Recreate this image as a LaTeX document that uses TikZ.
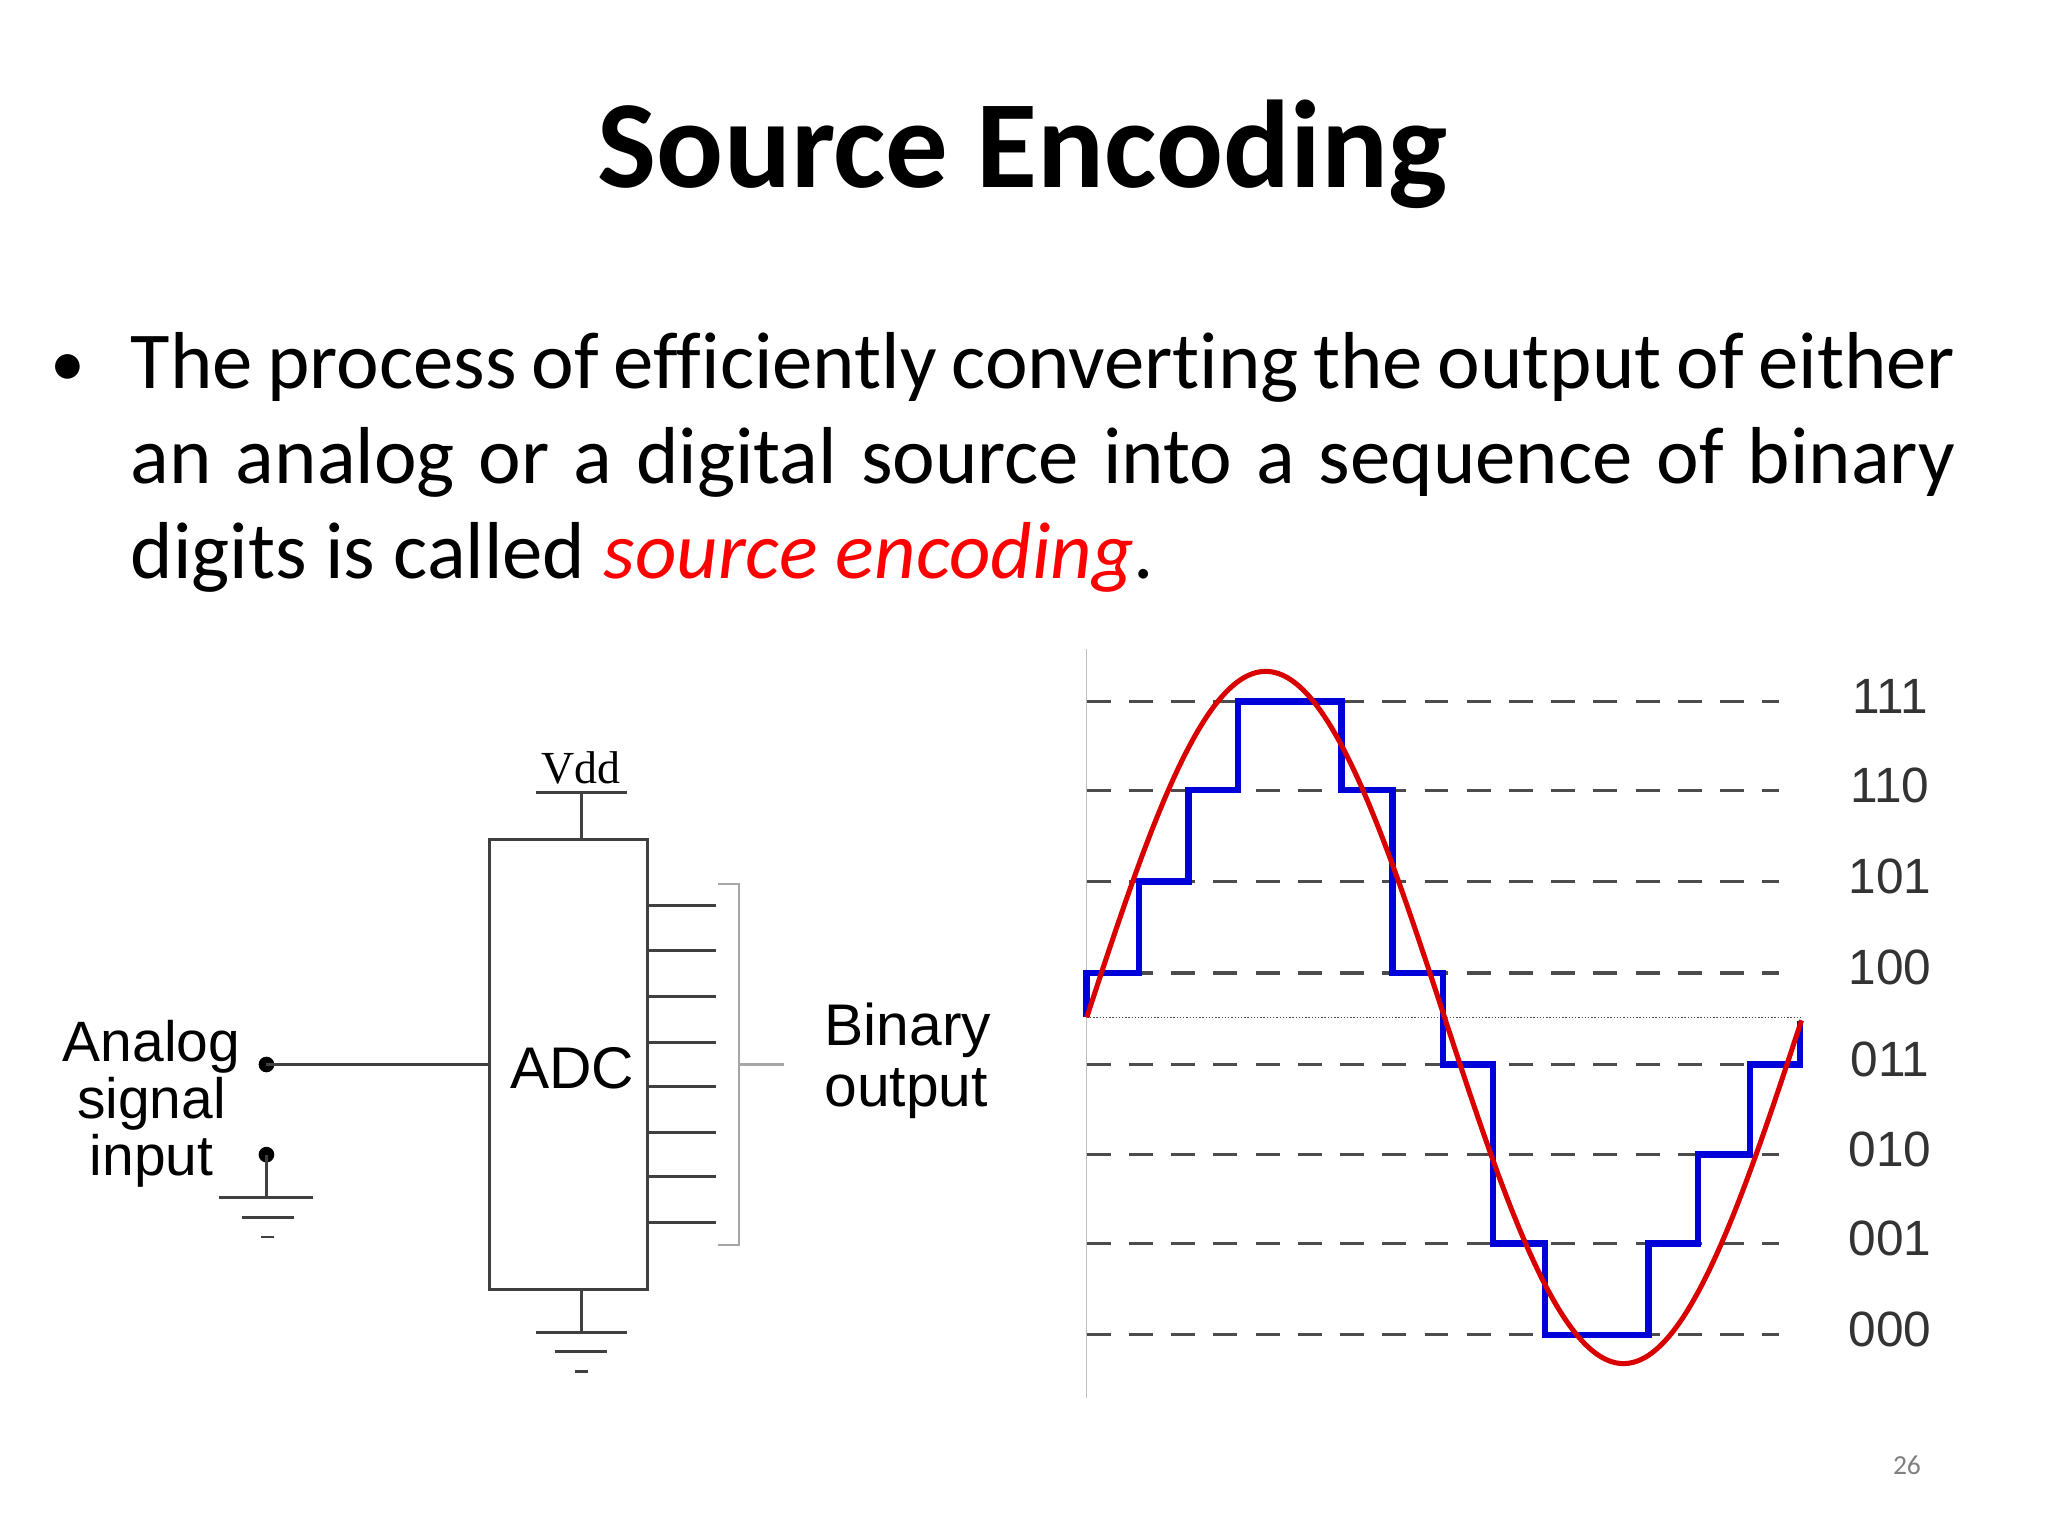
\documentclass[tikz,border=0pt]{standalone}
\usepackage{fontspec}
\setmainfont{Carlito}[Ligatures=NoCommon]
\newfontfamily\arialf{Liberation Sans}
\newfontfamily\timesf{Liberation Serif}
\begin{document}
\begin{tikzpicture}[x=0.05cm,y=-0.05cm,
  dia/.style={font=\arialf\fontsize{64}{66}\selectfont,align=center,inner sep=0},
  lvl/.style={font=\arialf\fontsize{54}{56}\selectfont,text=black!80,inner sep=0},
  wire/.style={line width=3pt,black!75},
  lvldash/.style={line width=3.5pt,black!70,dash pattern=on 26pt off 20pt}]
\useasboundingbox (0,0) rectangle (1568,1176);
\node[font=\bfseries\fontsize{136}{140}\selectfont,inner sep=0] (title) at (783,118) {Source Encoding};
\node[font=\fontsize{88}{104}\selectfont,anchor=north west,text width=69.85cm,align=justify,inner sep=0] (body) at (100,254)
 {\hyphenpenalty=10000 The process of efficiently converting the output of either\linebreak an analog or a digital source into a sequence of binary\linebreak digits is called \textcolor{red}{\itshape source encoding}.};
\node[font=\fontsize{76}{80}\selectfont,inner sep=0] (bul) at (52,284) {\textbullet};
% ADC
\node[draw,line width=3pt,black!75,minimum width=6.05cm,minimum height=17.2cm,inner sep=0] (adc) at (435.5,815) {};
\node[dia] (adct) at (438,818) {ADC};
\node[font=\timesf\fontsize{50}{52}\selectfont,inner sep=0] (vdd) at (445,588) {Vdd};
\coordinate (vt) at (445,643);
\coordinate (vb) at (445,987);
\draw[wire] (410,607) -- (480,607) (445,607) -- (vt);
\coordinate (g1) at (445,1020);
\draw[wire] (vb) -- (g1) (410,1020) -- (480,1020) (425,1035) -- (465,1035) (440,1050) -- (450,1050);
\foreach \yy in {693,728,763,798,832,867,901,936} \draw[wire] (496,\yy) -- (548,\yy);
\draw[line width=2.5pt,black!35] (550,677) -- (566,677) -- (566,953) -- (550,953) (566,815) -- (600,815);
\node[dia,align=left] (bin) at (695,812) {Binary\\output};
\fill (204,815) circle (6) coordinate (in);
\draw[wire] (in) -- (adc.west);
\fill (204,884) circle (6) coordinate (gi);
\draw[wire] (gi) -- (204,917) (168,917) -- (240,917) (185,932) -- (225,932) (200,947) -- (210,947);
\node[dia,font=\arialf\fontsize{62}{62}\selectfont] (ana) at (116,845) {Analog\\signal\\input};
% waveform
\draw[line width=1.5pt,black!25] (832,497) -- (832,1070);
\foreach \yy/\lab in {537/111,605/110,675/101,745/100,815/011,884/010,952/001,1022/000}{
  \draw[lvldash] (832,\yy) -- (1362,\yy);
  \node[lvl] at (1447,\yy-4) {\lab};}
\draw[line width=1.5pt,black!70,dotted] (832,779) -- (1380,779);
\draw[blue!85!black,line width=7pt] (832,779) -- (832,745) -- (872,745) -- (872,675) -- (910,675) -- (910,605) -- (948,605) -- (948,537) -- (1027,537) -- (1027,605) -- (1066,605) -- (1066,745) -- (1105,745) -- (1105,815) -- (1143,815) -- (1143,952) -- (1183,952) -- (1183,1022) -- (1262,1022) -- (1262,952) -- (1300,952) -- (1300,884) -- (1340,884) -- (1340,815) -- (1378,815) -- (1378,782);
\draw[red!85!black,line width=5.5pt,domain=0:1,samples=120,smooth] plot ({832+548*\x},{779-265*sin(360*\x)});
\node[font=\fontsize{30}{32}\selectfont,text=black!50,inner sep=0] (pg) at (1460,1122) {26};
\end{tikzpicture}
\end{document}
